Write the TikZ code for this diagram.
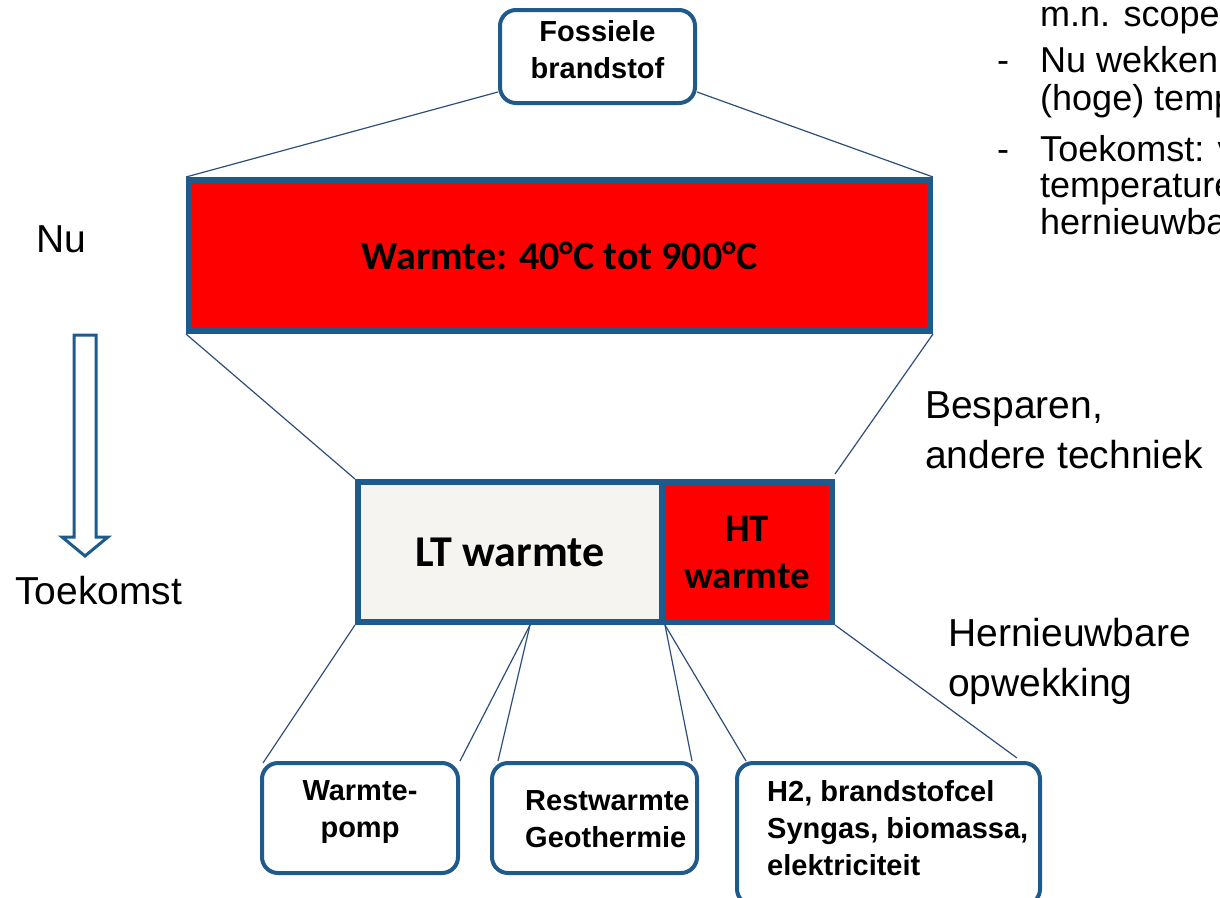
\documentclass[tikz,border=0pt]{standalone}
\usepackage{fontspec}
\setmainfont{Liberation Sans}
\newfontfamily\calibri{Carlito}
\definecolor{rand}{HTML}{1F5A8C}
\definecolor{lijnkleur}{HTML}{2E4E7A}
\definecolor{lichtgrijs}{HTML}{F5F4F0}

\begin{document}
\begin{tikzpicture}[x = 1pt, y = -1pt,
  blok/.style = {draw = rand, line width = 6pt, inner sep = 0pt, align = center},
  rondblok/.style = {draw = rand, line width = 4pt, rounded corners = 16pt, fill = white, inner sep = 0pt, align = center},
  lijn/.style = {draw = lijnkleur, line width = 1.2pt},
  zijtekst/.style = {font = \fontsize{39}{50}\selectfont, anchor = north west, inner sep = 0pt, align = left},
  lijsttekst/.style = {font = \fontsize{36}{40}\selectfont, anchor = base west, inner sep = 0pt},
  bodemtekst/.style = {font = \fontsize{29}{37}\selectfont\bfseries, anchor = north west, inner sep = 0pt, align = left}]
\useasboundingbox (0,0) rectangle (1220,897);
\clip (0,0) rectangle (1220,897);
\node [rondblok, minimum width = 195pt, minimum height = 93pt, text depth = 14pt, font = \fontsize{29}{37}\selectfont\bfseries] (fossiel) at (597.5,56.5) {Fossiele\\brandstof};
\node [blok, fill = red, minimum width = 741pt, minimum height = 151pt, font = \fontsize{40}{48}\selectfont\calibri\bfseries] (warm) at (559.5,255.5) {Warmte: 40°C tot 900°C};
\node [blok, fill = lichtgrijs, minimum width = 304pt, minimum height = 140pt, font = \fontsize{44}{50}\selectfont\calibri\bfseries] (lt) at (510,552) {LT warmte};
\node [blok, fill = red, minimum width = 170pt, minimum height = 140pt, font = \fontsize{39}{47}\selectfont\calibri\bfseries] (ht) at (747,552) {HT\\warmte};
\node [rondblok, minimum width = 196pt, minimum height = 110pt, text depth = 18pt, font = \fontsize{29}{37}\selectfont\bfseries] (pomp) at (360,818) {Warmte-\\pomp};
\node [rondblok, minimum width = 205pt, minimum height = 110pt] (rest) at (594.5,818) {};
\node [rondblok, minimum width = 303pt, minimum height = 142pt] (h2) at (888.5,834) {};
\node [bodemtekst] (resttekst) at (525,790) {Restwarmte\\Geothermie};
\node [bodemtekst] (h2tekst) at (767,780) {H2, brandstofcel\\Syngas, biomassa,\\elektriciteit};
\draw [lijn] ([yshift = 13pt]fossiel.south west) -- (warm.north west);
\draw [lijn] ([yshift = 13pt]fossiel.south east) -- (warm.north east);
\draw [lijn] (warm.south west) -- (lt.north west);
\draw [lijn] (warm.south east) -- ([yshift = 5pt]ht.north east);
\draw [lijn] (lt.south west) -- ([xshift = 3pt, yshift = -2pt]pomp.north west);
\draw [lijn] ([xshift = 20pt]lt.south) -- (pomp.north east);
\draw [lijn] ([xshift = 20pt]lt.south) -- ([xshift = 8pt]rest.north west);
\draw [lijn] (lt.south east) -- ([xshift = -7pt]rest.north east);
\draw [lijn] (lt.south east) -- ([xshift = 11pt]h2.north west);
\draw [lijn] (ht.south east) -- ([xshift = -25pt, yshift = 3pt]h2.north east);
\draw [rand, fill = white, line width = 3pt] (74,335) -- (96,335) -- (96,537) -- (108,537) -- (85,556) -- (62,537) -- (74,537) -- cycle;
\node [zijtekst] (nu) at (36,225) {Nu};
\node [zijtekst] (toekomst) at (15,576) {Toekomst};
\node [zijtekst] (besparen) at (925,391) {Besparen,\\andere techniek};
\node [zijtekst] (hernieuwbaar) at (948,618) {Hernieuwbare\\opwekking};
\node [lijsttekst] (regel1) at (1040,26) {m.n. scope};
\node [lijsttekst] (streep1) at (997,72) {-};
\node [lijsttekst] (regel2) at (1040,72) {Nu wekken};
\node [lijsttekst] (regel3) at (1040,110) {(hoge) temp};
\node [lijsttekst] (streep2) at (997,161) {-};
\node [lijsttekst] (regel4) at (1040,161) {Toekomst: v};
\node [lijsttekst] (regel5) at (1040,197) {temperature};
\node [lijsttekst] (regel6) at (1040,234) {hernieuwba};
\end{tikzpicture}
\end{document}
